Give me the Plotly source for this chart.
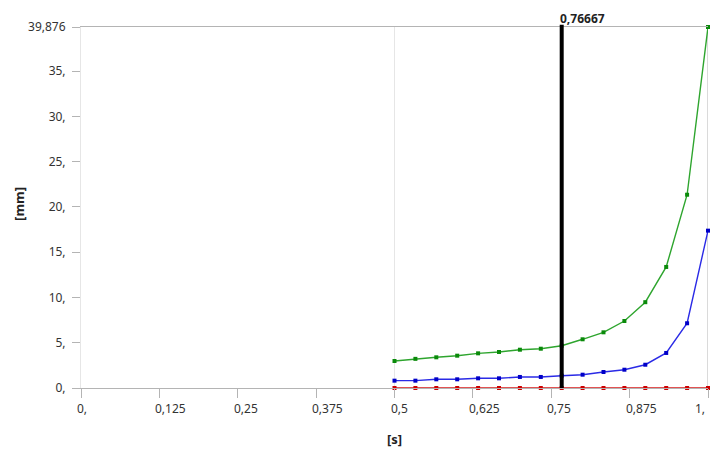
import plotly.graph_objects as go

# ---- data ----
time_s = [0.5, 0.53333, 0.56667, 0.6, 0.63333, 0.66667, 0.7, 0.73333,
          0.76667, 0.8, 0.83333, 0.86667, 0.9, 0.93333, 0.96667, 1.0]
green_mm = [2.98, 3.22, 3.39, 3.57, 3.83, 3.98, 4.23, 4.34,
            4.67, 5.38, 6.15, 7.40, 9.48, 13.37, 21.35, 39.876]
blue_mm = [0.81, 0.81, 0.96, 0.96, 1.07, 1.07, 1.22, 1.22,
           1.36, 1.47, 1.77, 2.02, 2.57, 3.87, 7.15, 17.38]
red_mm = [0.0] * 16

cursor_t = 0.76667
cursor_label = "0,76667"

x_ticks = [0, 0.125, 0.25, 0.375, 0.5, 0.625, 0.75, 0.875, 1.0]
x_ticktext = ["0,", "0,125", "0,25", "0,375", "0,5", "0,625", "0,75", "0,875", "1,"]
y_ticks = [0, 5, 10, 15, 20, 25, 30, 35, 39.876]
y_ticktext = ["0,", "5,", "10,", "15,", "20,", "25,", "30,", "35,", "39,876"]

FONT = "Noto Sans"

fig = go.Figure()

for ys, lc, mc in [(green_mm, "#2ea52e", "#0a8a0a"),
                   (blue_mm, "#2a2ae6", "#0000c8"),
                   (red_mm, "#d81818", "#cc0000")]:
    fig.add_trace(go.Scatter(
        x=time_s, y=ys, mode="lines+markers",
        line=dict(color=lc, width=1.4),
        marker=dict(symbol="square", size=4, color=mc),
        showlegend=False, hoverinfo="skip", cliponaxis=False
    ))

# light line where the data starts, right border
fig.add_shape(type="line", xref="x", yref="paper", x0=time_s[0], x1=time_s[0],
              y0=0, y1=1, line=dict(color="#e6e6e6", width=1), layer="below")
fig.add_shape(type="line", xref="x", yref="paper", x0=time_s[-1], x1=time_s[-1],
              y0=0, y1=1, line=dict(color="#b4b4b4", width=1), layer="below")

# cursor
fig.add_shape(type="line", xref="x", yref="paper", x0=cursor_t, x1=cursor_t,
              y0=0, y1=1.006, line=dict(color="black", width=4))
fig.add_annotation(x=cursor_t, y=1.0526, xref="x", yref="paper", text="<b>" + cursor_label + "</b>",
                   showarrow=False, xanchor="left", yanchor="top", xshift=-4,
                   font=dict(family=FONT, size=12, color="#222"))

# x tick labels, left-aligned at the ticks (last one kept inside)
for i, (v, t) in enumerate(zip(x_ticks, x_ticktext)):
    last = i == len(x_ticks) - 1
    fig.add_annotation(x=v, y=0, xref="x", yref="paper", text=t, showarrow=False,
                       xanchor="right" if last else "left", yanchor="top",
                       xshift=-1 if last else -6, yshift=-10,
                       font=dict(family=FONT, size=12, color="#333"))

# y axis title
fig.add_annotation(x=0, y=0.51, xref="paper", yref="paper", text="<b>[mm]</b>",
                   textangle=-90, showarrow=False, xanchor="left", yanchor="middle",
                   xshift=-73, font=dict(family=FONT, size=13, color="#222"))

# the page body has an 8px margin, so the margins are offset by it
fig.update_layout(
    width=718, height=450,
    margin=dict(l=73, r=18, t=19, b=70, autoexpand=False),
    plot_bgcolor="white", paper_bgcolor="white",
    font=dict(family=FONT, size=12, color="#333"),
    xaxis=dict(
        range=[0, 1], tickvals=x_ticks, showticklabels=False,
        ticks="outside", ticklen=9, tickcolor="#b4b4b4",
        showgrid=False, zeroline=False, automargin=False,
        showline=True, linecolor="#b4b4b4", mirror=True,
        title=dict(text="<b>[s]</b>", font=dict(family=FONT, size=13, color="#222"), standoff=37),
    ),
    yaxis=dict(
        range=[0, 39.876], tickvals=y_ticks, ticktext=y_ticktext,
        ticks="outside", ticklen=8, tickcolor="#b4b4b4", ticklabelstandoff=4,
        showgrid=False, zeroline=False, automargin=False,
        showline=True, linecolor="#e6e6e6",
    ),
)

fig.write_html("out.html")
